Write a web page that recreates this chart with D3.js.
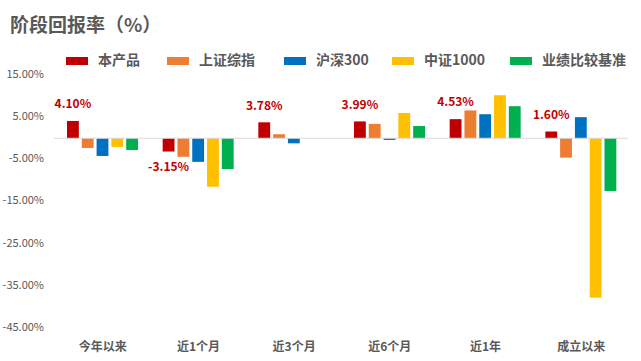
<!DOCTYPE html>
<html><head><meta charset="utf-8">
<script src="https://cdn.jsdelivr.net/npm/d3@7/dist/d3.min.js"></script>
<style>body{margin:0;background:#fff;} svg{display:block;font-family:"Noto Sans CJK SC","Microsoft YaHei",sans-serif;}</style>
</head><body>
<svg id="c" width="641" height="361"></svg>
<script>
const categories = ["今年以来","近1个月","近3个月","近6个月","近1年","成立以来"];
const seriesNames = ["本产品","上证综指","沪深300","中证1000","业绩比较基准"];
const colors = ["#C00000","#ED7D31","#0070C0","#FFC000","#00B050"];
const product   = [4.10, -3.15, 3.78, 3.99, 4.53, 1.60];
const shIndex   = [-2.3, -4.4, 0.95, 3.4, 6.6, -4.6];
const hs300     = [-4.2, -5.6, -1.2, -0.4, 5.7, 5.0];
const zz1000    = [-2.05, -11.5, 0, 6.0, 10.2, -37.8];
const benchmark = [-2.8, -7.3, 0, 2.9, 7.6, -12.5];
const yTicks = [15, 5, -5, -15, -25, -35, -45];
const seriesValues = [product, shIndex, hs300, zz1000, benchmark];

const svg = d3.select("#c");
const y = d3.scaleLinear().domain([-45, 15]).range([328, 75]);
const x0 = d3.scaleBand().domain(categories).range([55, 629]);
const x1 = d3.scaleBand().domain(seriesNames).range([12, 83]).paddingInner(0.2);

// title
svg.append("text").attr("x", 10).attr("y", 27).attr("dominant-baseline","middle")
  .attr("font-size", 19).attr("font-weight", "bold").attr("fill", "#595959").text("阶段回报率（%）");

// legend
const legendX = [66, 167, 284, 392, 510];
seriesNames.forEach((s, i) => {
  svg.append("rect").attr("x", legendX[i]).attr("y", 57).attr("width", 22).attr("height", 8).attr("fill", colors[i]);
  svg.append("text").attr("x", legendX[i] + 32).attr("y", 61).attr("dominant-baseline","middle")
    .attr("font-size", 14).attr("font-weight", "bold").attr("fill", "#595959").text(s);
});

// y axis labels
yTicks.forEach(t => {
  svg.append("text").attr("x", 44).attr("y", y(t)).attr("text-anchor","end").attr("dominant-baseline","middle")
    .attr("font-size", 11).attr("fill", "#595959").text(t.toFixed(2) + "%");
});

// bars
categories.forEach((c, ci) => {
  seriesNames.forEach((s, si) => {
    const v = seriesValues[si][ci];
    svg.append("rect")
      .attr("x", x0(c) + x1(s)).attr("width", x1.bandwidth())
      .attr("y", Math.min(y(v), y(0))).attr("height", Math.abs(y(v) - y(0)))
      .attr("fill", colors[si]);
  });
  const v = product[ci];
  svg.append("text")
    .attr("x", x0(c) + x1(seriesNames[0]) + x1.bandwidth() / 2)
    .attr("y", v >= 0 ? y(v) - 16 : y(v) + 16)
    .attr("text-anchor","middle").attr("dominant-baseline","middle")
    .attr("font-size", 12).attr("font-weight","bold").attr("fill", "#C00000")
    .text(v.toFixed(2) + "%");
  svg.append("text").attr("x", x0(c) + x0.bandwidth() / 2).attr("y", 348)
    .attr("text-anchor","middle").attr("dominant-baseline","middle")
    .attr("font-size", 12).attr("font-weight","bold").attr("fill", "#595959").text(c);
});

// zero line
svg.append("line").attr("x1", 54).attr("x2", 628).attr("y1", y(0)).attr("y2", y(0))
  .attr("stroke", "#D9D9D9").attr("stroke-width", 1);
</script>
</body></html>
